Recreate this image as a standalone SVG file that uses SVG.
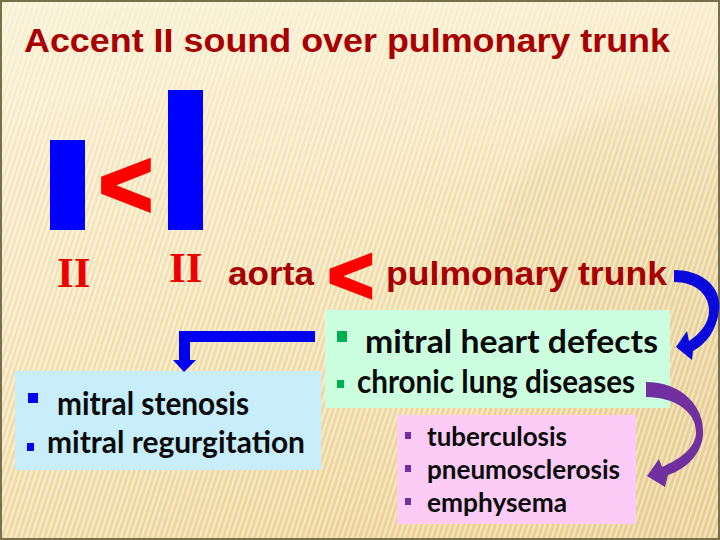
<svg xmlns="http://www.w3.org/2000/svg" width="720" height="540" viewBox="0 0 720 540">
  <defs>
    <linearGradient id="bg" x1="0" y1="0" x2="0.6" y2="1">
      <stop offset="0" stop-color="#FAF1D4"/>
      <stop offset="0.5" stop-color="#F6E5B9"/>
      <stop offset="1" stop-color="#EED496"/>
    </linearGradient>
    <radialGradient id="blob" cx="720" cy="330" r="260" gradientUnits="userSpaceOnUse">
      <stop offset="0" stop-color="#E6CF98" stop-opacity="0.55"/>
      <stop offset="0.92" stop-color="#E6CF98" stop-opacity="0.35"/>
      <stop offset="1" stop-color="#E6CF98" stop-opacity="0"/>
    </radialGradient>
    <pattern id="stripes" width="5" height="8" patternUnits="userSpaceOnUse" patternTransform="rotate(18)">
      <rect x="0" y="0" width="1.6" height="8" fill="#FFFFFF" opacity="0.5"/>
      <rect x="2.6" y="0" width="1" height="8" fill="#C9A860" opacity="0.22"/>
    </pattern>
    <linearGradient id="fadeTop" x1="0" y1="0" x2="0" y2="1">
      <stop offset="0" stop-color="#FBF3DA" stop-opacity="0.7"/>
      <stop offset="0.35" stop-color="#FBF3DA" stop-opacity="0.1"/>
      <stop offset="1" stop-color="#FBF3DA" stop-opacity="0"/>
    </linearGradient>
  </defs>
  <style>
    .title { font-family: "Liberation Sans", Arial, sans-serif; font-weight: bold; fill: #A80000; }
    .roman { font-family: "Liberation Serif", "Times New Roman", serif; font-weight: bold; fill: #EE0000; }
    .lt { font-family: "Liberation Sans", Arial, sans-serif; font-weight: bold; fill: #FF0000; stroke: #FF0000; stroke-width: 3.5; stroke-linejoin: miter; }
    .body { font-family: Lato, "Open Sans", sans-serif; font-weight: bold; fill: #0A0A0A; }
    .bar { fill: #0000FF; }
  </style>

  <!-- background -->
  <rect x="0" y="0" width="720" height="540" fill="url(#bg)"/>
  <rect x="0" y="0" width="720" height="540" fill="url(#blob)"/>
  <rect x="0" y="0" width="720" height="540" fill="url(#stripes)"/>
  <rect x="0" y="0" width="720" height="540" fill="url(#fadeTop)"/>
  <rect x="1" y="1" width="718" height="538" fill="none" stroke="#77704F" stroke-width="2"/>

  <g id="title">
    <text class="title" x="24" y="52" font-size="34" textLength="646" lengthAdjust="spacingAndGlyphs">Accent II sound over pulmonary trunk</text>
  </g>

  <g id="bar-small"><rect class="bar" x="50" y="140" width="35" height="90"/></g>
  <g id="bar-tall"><rect class="bar" x="168" y="90" width="35" height="140"/></g>
  <g id="lt-bars"><text class="lt" x="99" y="216" font-size="92">&lt;</text></g>

  <g id="label-II-1"><text class="roman" x="57" y="287" font-size="43">II</text></g>
  <g id="label-II-2"><text class="roman" x="169" y="282" font-size="43">II</text></g>

  <g id="aorta"><text class="title" x="228" y="285" font-size="34" textLength="86" lengthAdjust="spacingAndGlyphs">aorta</text></g>
  <g id="lt-vessels"><text class="lt" x="328" y="302" font-size="78">&lt;</text></g>
  <g id="pulmonary"><text class="title" x="386" y="285" font-size="34" textLength="281" lengthAdjust="spacingAndGlyphs">pulmonary trunk</text></g>

  <g id="causes">
    <rect x="325" y="310" width="345" height="98" fill="#CCFFE0"/>
    <rect x="337" y="331" width="10" height="11" fill="#00B050"/>
    <text class="body" x="365" y="353" font-size="33" textLength="293" lengthAdjust="spacingAndGlyphs">mitral heart defects</text>
    <rect x="337" y="380" width="7" height="8" fill="#00B050"/>
    <text class="body" x="357" y="393" font-size="32" textLength="278" lengthAdjust="spacingAndGlyphs">chronic lung diseases</text>
  </g>

  <g id="mitral">
    <rect x="15" y="371" width="306" height="99" fill="#C8EEFC"/>
    <rect x="28" y="393" width="10" height="10" fill="#0000FF"/>
    <text class="body" x="57" y="415" font-size="32" textLength="192" lengthAdjust="spacingAndGlyphs">mitral stenosis</text>
    <rect x="27" y="443" width="7" height="8" fill="#0000FF"/>
    <text class="body" x="47" y="453" font-size="30" textLength="258" lengthAdjust="spacingAndGlyphs">mitral regurgitation</text>
  </g>

  <g id="lung">
    <rect x="397" y="415" width="239" height="109" fill="#FCCCF6"/>
    <rect x="405" y="432" width="6" height="7" fill="#7030A0"/>
    <text class="body" x="427" y="446" font-size="27" textLength="140" lengthAdjust="spacingAndGlyphs">tuberculosis</text>
    <rect x="405" y="465" width="6" height="7" fill="#7030A0"/>
    <text class="body" x="427" y="479" font-size="27" textLength="193" lengthAdjust="spacingAndGlyphs">pneumosclerosis</text>
    <rect x="405" y="498" width="6" height="7" fill="#7030A0"/>
    <text class="body" x="427" y="512" font-size="27" textLength="140" lengthAdjust="spacingAndGlyphs">emphysema</text>
  </g>

  <g id="connectors">
    <path d="M315,331 L179,331 L179,360 L173,360 L184,372 L196,360 L190,360 L190,342 L315,342 Z" fill="#0000F0"/>
    <path d="M674,270 C700,270 722,285 719,310 C717,330 706,344 693,351 L692,360 L676,347 L687,331 L689,341 C700,334 710,322 709,309 C708,293 694,282 674,282 Z" fill="#0A0ADC"/>
    <path d="M646,382 C680,382 705,405 703,435 C701,455 686,469 668,475 L665,487 L647,476 L659,459 L662,467 C680,459 696,448 696,432 C696,412 675,397 646,397 Z" fill="#7030A0"/>
  </g>
</svg>
